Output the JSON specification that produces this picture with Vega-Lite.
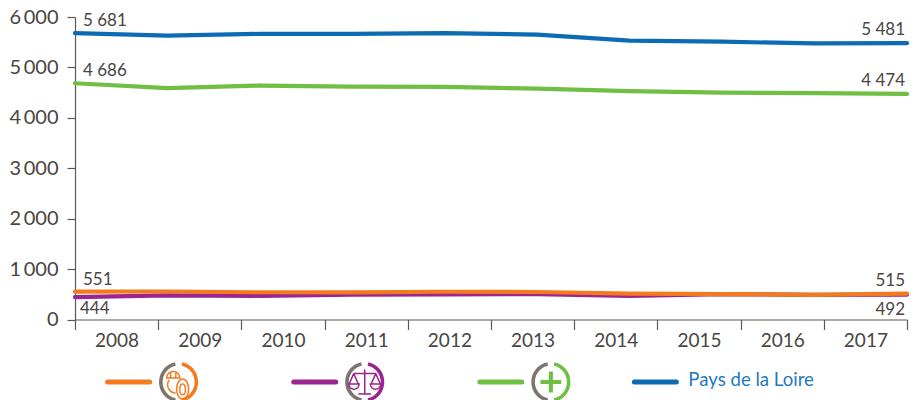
{
"$schema":"https://vega.github.io/schema/vega-lite/v6.json",
"padding":{"left":9,"top":7,"right":0,"bottom":0},
"background":"white",
"config":{"view":{"stroke":null},"font":"Lato","axis":{"labelFont":"Lato","grid":false}},
"spacing":5,
"datasets":{
"series":[
{"annee":"2008","serie":"Pays de la Loire","valeur":5681,"etiquette":"5 681"},{"annee":"2009","serie":"Pays de la Loire","valeur":5630},{"annee":"2010","serie":"Pays de la Loire","valeur":5665},{"annee":"2011","serie":"Pays de la Loire","valeur":5665},{"annee":"2012","serie":"Pays de la Loire","valeur":5681},{"annee":"2013","serie":"Pays de la Loire","valeur":5650},{"annee":"2014","serie":"Pays de la Loire","valeur":5530},{"annee":"2015","serie":"Pays de la Loire","valeur":5510},{"annee":"2016","serie":"Pays de la Loire","valeur":5475},{"annee":"2017","serie":"Pays de la Loire","valeur":5481,"etiquette":"5 481"},
{"annee":"2008","serie":"Santé","valeur":4686,"etiquette":"4 686"},{"annee":"2009","serie":"Santé","valeur":4590},{"annee":"2010","serie":"Santé","valeur":4640},{"annee":"2011","serie":"Santé","valeur":4620},{"annee":"2012","serie":"Santé","valeur":4615},{"annee":"2013","serie":"Santé","valeur":4580},{"annee":"2014","serie":"Santé","valeur":4530},{"annee":"2015","serie":"Santé","valeur":4500},{"annee":"2016","serie":"Santé","valeur":4490},{"annee":"2017","serie":"Santé","valeur":4474,"etiquette":"4 474"},
{"annee":"2008","serie":"Justice","valeur":444,"etiquette":"444"},{"annee":"2009","serie":"Justice","valeur":480},{"annee":"2010","serie":"Justice","valeur":470},{"annee":"2011","serie":"Justice","valeur":495},{"annee":"2012","serie":"Justice","valeur":500},{"annee":"2013","serie":"Justice","valeur":505},{"annee":"2014","serie":"Justice","valeur":470},{"annee":"2015","serie":"Justice","valeur":505},{"annee":"2016","serie":"Justice","valeur":490},{"annee":"2017","serie":"Justice","valeur":492,"etiquette":"492"},
{"annee":"2008","serie":"Industrie","valeur":551,"etiquette":"551"},{"annee":"2009","serie":"Industrie","valeur":555},{"annee":"2010","serie":"Industrie","valeur":540},{"annee":"2011","serie":"Industrie","valeur":540},{"annee":"2012","serie":"Industrie","valeur":550},{"annee":"2013","serie":"Industrie","valeur":545},{"annee":"2014","serie":"Industrie","valeur":515},{"annee":"2015","serie":"Industrie","valeur":505},{"annee":"2016","serie":"Industrie","valeur":490},{"annee":"2017","serie":"Industrie","valeur":515,"etiquette":"515"}
],
"legende":[
{"serie":"Industrie","ordre":0},{"serie":"Justice","ordre":1},{"serie":"Santé","ordre":2},{"serie":"Pays de la Loire","ordre":2.83}
]},
"vconcat":[
{"width":832,"height":302.5,"data":{"name":"series"},
"resolve":{"scale":{"x":"independent"}},
"layer":[
{"mark":{"type":"rule","opacity":0},
"encoding":{
"x":{"field":"annee","type":"nominal","scale":{"type":"band","paddingInner":0,"paddingOuter":0},
"axis":{"title":null,"orient":"bottom","tickBand":"extent","tickSize":10,"tickColor":"#5f5855","tickWidth":1.2,"domainColor":"#5f5855","domainWidth":1.2,"labelFontSize":19,"labelColor":"#4a4442","labelAngle":0,"labelPadding":2}},
"y":{"field":"valeur","type":"quantitative","scale":{"domain":[0,6000],"nice":false},
"axis":{"title":null,"values":[0,1000,2000,3000,4000,5000,6000],"tickSize":8,"tickColor":"#5f5855","tickWidth":1.2,"domainColor":"#5f5855","domainWidth":1.2,"labelFontSize":20,"labelColor":"#4a4442","labelPadding":9,"labelExpr":"replace(format(datum.value,','),',','\u2009')"}}
}},
{"layer":[
{"mark":{"type":"line","strokeWidth":4.2,"interpolate":"linear","strokeCap":"round"},
"encoding":{
"x":{"field":"annee","type":"ordinal","scale":{"type":"point","padding":0},"axis":null},
"y":{"field":"valeur","type":"quantitative"},
"color":{"field":"serie","type":"nominal","legend":null,"sort":["Industrie","Justice","Santé","Pays de la Loire"],
"scale":{"domain":["Industrie","Justice","Santé","Pays de la Loire"],"range":["#f47a20","#9b2590","#70bf44","#0b6cb4"]}}
}},
{"transform":[{"filter":"datum.annee=='2008' && datum.serie!='Justice'"}],
"mark":{"type":"text","align":"left","baseline":"alphabetic","dx":8,"dy":-7,"fontSize":17,"color":"#4a4442"},
"encoding":{"x":{"field":"annee","type":"ordinal","axis":null},"y":{"field":"valeur","type":"quantitative"},"text":{"field":"etiquette"}}},
{"transform":[{"filter":"datum.annee=='2017' && datum.serie!='Justice'"}],
"mark":{"type":"text","align":"right","baseline":"alphabetic","dx":-2,"dy":-8,"fontSize":17,"color":"#4a4442"},
"encoding":{"x":{"field":"annee","type":"ordinal","axis":null},"y":{"field":"valeur","type":"quantitative"},"text":{"field":"etiquette"}}},
{"transform":[{"filter":"datum.annee=='2008' && datum.serie=='Justice'"}],
"mark":{"type":"text","align":"left","baseline":"alphabetic","dx":5,"dy":17,"fontSize":17,"color":"#4a4442"},
"encoding":{"x":{"field":"annee","type":"ordinal","axis":null},"y":{"field":"valeur","type":"quantitative"},"text":{"field":"etiquette"}}},
{"transform":[{"filter":"datum.annee=='2017' && datum.serie=='Justice'"}],
"mark":{"type":"text","align":"right","baseline":"alphabetic","dx":-2,"dy":20,"fontSize":17,"color":"#4a4442"},
"encoding":{"x":{"field":"annee","type":"ordinal","axis":null},"y":{"field":"valeur","type":"quantitative"},"text":{"field":"etiquette"}}}
]}
]},
{"width":832,"height":40,"data":{"name":"legende"},
"encoding":{"x":{"field":"ordre","type":"quantitative","axis":null,"scale":{"domain":[-0.288,4.182],"nice":false,"zero":false}}},
"layer":[
{"mark":{"type":"point","shape":"M-1,0L1,0","size":1764,"strokeWidth":5,"filled":false,"opacity":1,"strokeCap":"round"},
"encoding":{"stroke":{"field":"serie","type":"nominal","legend":null,"scale":{"domain":["Industrie","Justice","Santé","Pays de la Loire"],"range":["#f47a20","#9b2590","#70bf44","#0b6cb4"]}}}},
{"transform":[{"filter":"datum.serie!='Pays de la Loire'"}],
"mark":{"type":"point","shape":"M-0.16,-0.9A0.92,0.92 0 0 0 -0.16,0.9","size":1600,"strokeWidth":3.6,"filled":false,"opacity":1,"stroke":"#7d7470","xOffset":50}},
{"transform":[{"filter":"datum.serie!='Pays de la Loire'"}],
"mark":{"type":"point","shape":"M0.16,-0.9A0.92,0.92 0 0 1 0.16,0.9","size":1600,"strokeWidth":3.6,"filled":false,"opacity":1,"xOffset":50},
"encoding":{"stroke":{"field":"serie","type":"nominal","legend":null}}},
{"transform":[{"filter":"datum.serie=='Industrie'||datum.serie=='Justice'"}],
"mark":{"type":"point","size":1600,"strokeWidth":1.5,"filled":false,"opacity":1,"xOffset":50},
"encoding":{
"stroke":{"field":"serie","type":"nominal","legend":null},
"shape":{"field":"serie","type":"nominal","legend":null,"scale":{"domain":["Industrie","Justice"],"range":[
"M-0.6,-0.2A0.33,0.33 0 0 1 0.06,-0.2ZM-0.4,-0.45V-0.2M-0.14,-0.45V-0.2M-0.46,-0.1A0.4,0.4 0 0 0 -0.15,0.55M0.2,-0.15A0.3,0.5 0 1 0 0.201,-0.15ZM0.2,0.1A0.14,0.27 0 1 0 0.201,0.1Z",
"M0,-0.62V0.58M-0.32,0.6H0.32M-0.55,-0.42L0.55,-0.42M-0.55,-0.42L-0.78,0.1M-0.55,-0.42L-0.32,0.1M-0.8,0.1A0.26,0.26 0 0 0 -0.28,0.1ZM0.55,-0.42L0.32,0.1M0.55,-0.42L0.78,0.1M0.28,0.1A0.26,0.26 0 0 0 0.8,0.1Z"]}}
}},
{"transform":[{"filter":"datum.serie=='Santé'"}],
"mark":{"type":"point","shape":"M-0.52,0L0.52,0M0,-0.52L0,0.52","size":1600,"strokeWidth":4,"filled":false,"opacity":1,"xOffset":50},
"encoding":{"stroke":{"field":"serie","type":"nominal","legend":null}}},
{"transform":[{"filter":"datum.serie=='Pays de la Loire'"}],
"mark":{"type":"text","align":"left","baseline":"middle","dx":33,"dy":-2,"fontSize":18.6,"color":"#1f78bd"},
"encoding":{"text":{"field":"serie"}}}
]}
]}
